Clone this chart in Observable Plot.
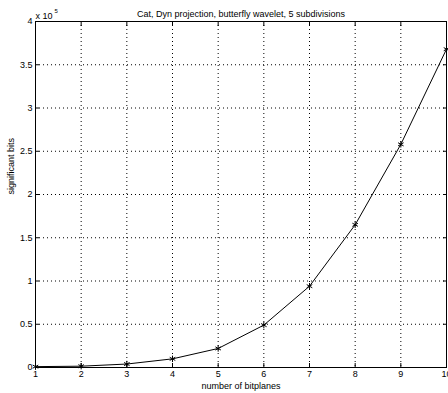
<!DOCTYPE html>
<html><head><meta charset="utf-8">
<script src="https://cdn.jsdelivr.net/npm/d3@7"></script>
<script src="https://cdn.jsdelivr.net/npm/@observablehq/plot@0.6"></script>
<style>body{margin:0;background:#fff}svg{display:block}</style>
</head><body><div id="chart"></div>
<script>
const bitplanes = [1, 2, 3, 4, 5, 6, 7, 8, 9, 10];
const significantBits = [1000, 1500, 4000, 10000, 22000, 49000, 94000, 165000, 258000, 368000];
const xTicks = [1, 2, 3, 4, 5, 6, 7, 8, 9, 10];
const yTicks = [0, 50000, 100000, 150000, 200000, 250000, 300000, 350000, 400000];
const titleText = "Cat, Dyn projection, butterfly wavelet, 5 subdivisions";
const xLabel = "number of bitplanes";
const yLabel = "significant bits";

const data = bitplanes.map((b, i) => ({b, v: significantBits[i]}));
const font = "Liberation Sans, Arial, sans-serif";
const yFmt = d => String(d / 100000);
const blank = () => "";

const plot = Plot.plot({
  width: 448, height: 393,
  marginLeft: 35, marginRight: 2, marginTop: 21, marginBottom: 26,
  style: {fontFamily: font, fontSize: "9px", color: "black", background: "white"},
  x: {domain: [1, 10]},
  y: {domain: [0, 400000]},
  marks: [
    Plot.gridX(xTicks.slice(1, -1), {stroke: "black", strokeOpacity: 1, strokeDasharray: "1,3", strokeWidth: 1}),
    Plot.gridY(yTicks.slice(1, -1), {stroke: "black", strokeOpacity: 1, strokeDasharray: "1,3", strokeWidth: 1}),
    Plot.frame({stroke: "black"}),
    Plot.axisX(xTicks, {anchor: "bottom", tickSize: -4, tickPadding: 7, label: null, fontSize: 9}),
    Plot.axisX(xTicks, {anchor: "top", tickSize: -4, tickFormat: blank, label: null}),
    Plot.axisY(yTicks, {anchor: "left", tickSize: -4, tickPadding: 7, tickFormat: yFmt, label: null}),
    Plot.axisY(yTicks, {anchor: "right", tickSize: -4, tickFormat: blank, label: null}),
    Plot.line(data, {x: "b", y: "v", stroke: "black", strokeWidth: 1}),
    Plot.dot(data, {x: "b", y: "v", symbol: "asterisk", r: 3, stroke: "black", strokeWidth: 1}),
    Plot.text([titleText], {frameAnchor: "top", dy: -11, fontSize: 9, fill: "black"}),
    Plot.text([xLabel], {frameAnchor: "bottom", dy: 21, fontSize: 9, fill: "black"}),
    Plot.text([yLabel], {frameAnchor: "left", dx: -24, rotate: -90, fontSize: 9, fill: "black"}),
    Plot.text(["x 10"], {frameAnchor: "top-left", dx: 0, dy: -9, textAnchor: "start", fontSize: 9, fill: "black"}),
    Plot.text(["5"], {frameAnchor: "top-left", dx: 19, dy: -13, textAnchor: "start", fontSize: 6, fill: "black"})
  ]
});
document.getElementById("chart").appendChild(plot);
</script></body></html>
